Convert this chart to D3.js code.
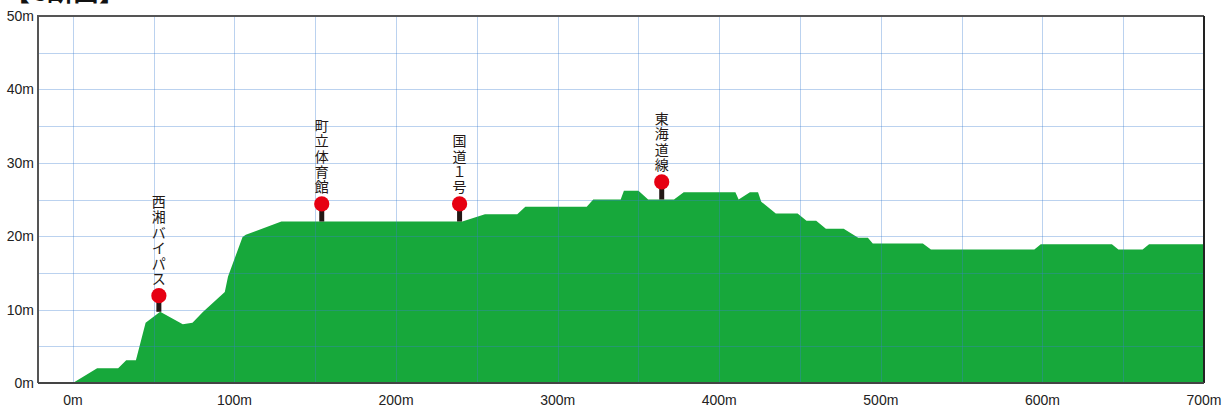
<!DOCTYPE html>
<html lang="ja">
<head>
<meta charset="UTF-8">
<title>断面図</title>
<script src="https://cdn.jsdelivr.net/npm/d3@7"></script>
<style>
  body { margin: 0; background: #fff; }
  svg { display: block; }
</style>
</head>
<body>
<script>
// terrain profile: distance (m), elevation (m)
const distances = [0, 15, 28, 33, 39, 45, 54, 68, 74, 80.6, 94, 96, 105, 107, 129, 241, 255, 275, 280, 318, 322, 339, 341, 350, 356, 372, 378, 410, 412, 419, 424, 426, 435, 448.5, 454, 460, 466, 477, 486, 492, 495, 526, 531, 595, 599, 643, 647, 662, 666, 700]
const elevations = [0, 2, 2, 3.1, 3.1, 8.2, 9.7, 8, 8.2, 9.7, 12.4, 14.5, 19.9, 20.2, 22, 22, 23, 23, 24, 24, 25, 25, 26.2, 26.2, 25, 25, 26, 26, 25, 26, 26, 24.7, 23.1, 23.1, 22.1, 22.1, 21, 21, 19.8, 19.8, 19, 19, 18.2, 18.2, 18.9, 18.9, 18.2, 18.2, 18.9, 18.9]

// landmarks
const markNames = ["西湘バイパス", "町立体育館", "国道１号", "東海道線"]
const markDist = [53.2, 154, 239.3, 364.4]
const markTop = [11.9, 24.4, 24.4, 27.4]
const markGround = [9.7, 22, 22, 25]

const xTicks = [0, 100, 200, 300, 400, 500, 600, 700]
const yTicks = [0, 10, 20, 30, 40, 50]

const width = 1222, height = 408
const svg = d3.select('body').append('svg')
  .attr('width', width)
  .attr('height', height)

const x = d3.scaleLinear().domain([-21.6, 700]).range([38, 1204])
const y = d3.scaleLinear().domain([0, 50]).range([383, 16])

const profile = distances.map((d, i) => ({ d: d, e: elevations[i] }))

// title (cut at top like the original)
svg.append('text')
  .attr('x', 4).attr('y', 1)
  .attr('font-family', '"Noto Sans CJK JP", sans-serif')
  .attr('font-weight', 'bold')
  .attr('font-size', 26)
  .attr('fill', '#111')
  .text('【C断面】')

// ground
const area = d3.area()
  .x(d => x(d.d))
  .y0(y(0))
  .y1(d => y(d.e))
svg.append('path')
  .datum(profile)
  .attr('d', area)
  .attr('fill', '#17a83b')

// grid over the fill
const grid = svg.append('g')
  .attr('stroke', '#3b7fd0')
  .attr('stroke-opacity', 0.35)
  .attr('stroke-width', 1)
grid.selectAll('line.v')
  .data(d3.range(0, 701, 50))
  .enter().append('line')
  .attr('x1', d => Math.round(x(d)) + 0.5).attr('x2', d => Math.round(x(d)) + 0.5)
  .attr('y1', y(50)).attr('y2', y(0))
grid.selectAll('line.h')
  .data(d3.range(5, 50, 5))
  .enter().append('line')
  .attr('x1', x.range()[0]).attr('x2', x.range()[1])
  .attr('y1', d => Math.round(y(d)) + 0.5).attr('y2', d => Math.round(y(d)) + 0.5)

// frame
const frame = svg.append('g').attr('fill', 'none')
frame.append('path')
  .attr('d', `M${x.range()[0]},${y(0)}V${y(50)}H${x.range()[1]}`)
  .attr('stroke', '#555').attr('stroke-width', 2)
frame.append('line')
  .attr('x1', x.range()[1]).attr('x2', x.range()[1])
  .attr('y1', y(50)).attr('y2', y(0))
  .attr('stroke', '#222').attr('stroke-width', 2)
frame.append('line')
  .attr('x1', x.range()[0]).attr('x2', x.range()[1])
  .attr('y1', y(0)).attr('y2', y(0))
  .attr('stroke', '#444').attr('stroke-width', 2)

// axes labels
const tickFont = '"Liberation Sans Narrow", "Liberation Sans", Arial, sans-serif'
svg.append('g').selectAll('text')
  .data(yTicks)
  .enter().append('text')
  .attr('x', 34)
  .attr('y', d => y(d) + 5)
  .attr('text-anchor', 'end')
  .attr('font-family', tickFont)
  .attr('font-size', 14)
  .attr('fill', '#222')
  .text(d => d + 'm')
svg.append('g').selectAll('text')
  .data(xTicks)
  .enter().append('text')
  .attr('x', d => x(d))
  .attr('y', 405)
  .attr('text-anchor', 'middle')
  .attr('font-family', tickFont)
  .attr('font-size', 14)
  .attr('fill', '#222')
  .text(d => d + 'm')

// landmarks
const marks = markNames.map((n, i) => ({ name: n, d: markDist[i], top: markTop[i], ground: markGround[i] }))
const mg = svg.append('g').selectAll('g')
  .data(marks)
  .enter().append('g')
mg.append('line')
  .attr('x1', d => x(d.d)).attr('x2', d => x(d.d))
  .attr('y1', d => y(d.top)).attr('y2', d => y(d.ground))
  .attr('stroke', '#231815').attr('stroke-width', 5)
mg.append('circle')
  .attr('cx', d => x(d.d)).attr('cy', d => y(d.top))
  .attr('r', 7.6)
  .attr('fill', '#e60012')
mg.append('text')
  .attr('font-family', '"Noto Sans CJK JP", sans-serif')
  .attr('font-size', 14)
  .attr('fill', '#231815')
  .attr('text-anchor', 'middle')
  .each(function(d) {
    const chars = Array.from(d.name)
    const t = d3.select(this)
    const bottom = y(d.top) - 7.6 - 4
    chars.forEach((c, i) => {
      t.append('tspan')
        .attr('x', x(d.d))
        .attr('y', bottom - (chars.length - 1 - i) * 15.4)
        .text(c)
    })
  })
</script>
</body>
</html>
